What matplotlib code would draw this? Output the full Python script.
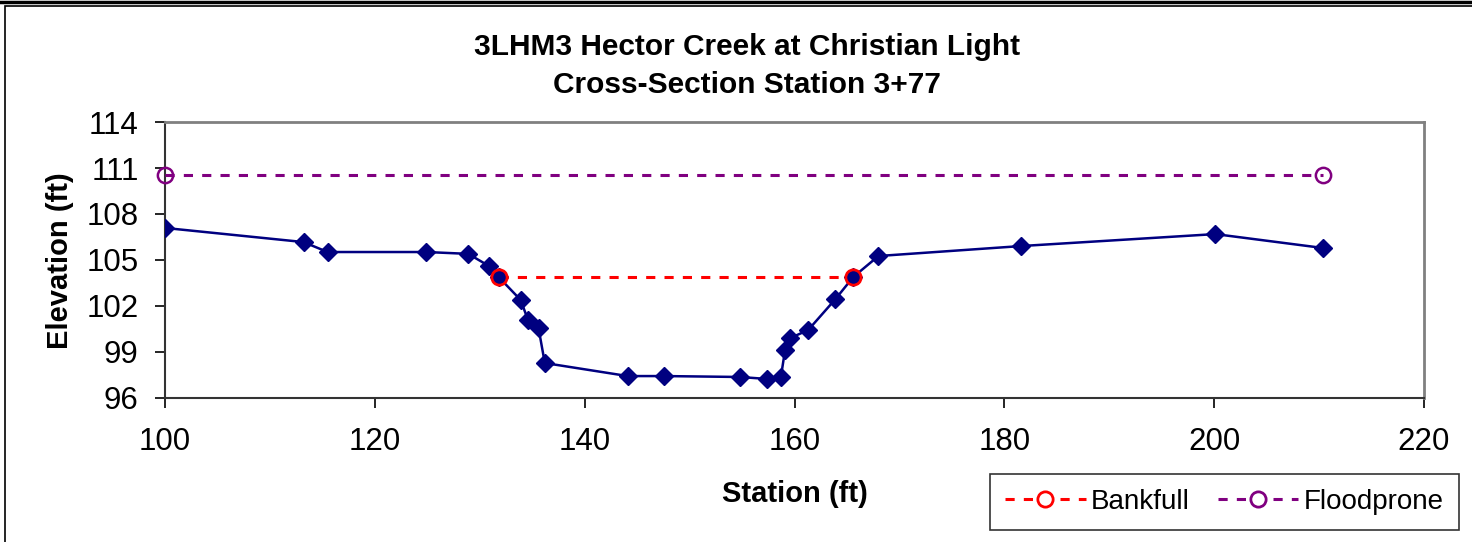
import matplotlib.pyplot as plt
from matplotlib.lines import Line2D
from matplotlib.patches import Rectangle

plt.rcParams['font.family'] = ['Liberation Sans', 'DejaVu Sans']

# cross-section survey points
station = [100.0, 113.2, 115.5, 124.9, 128.9, 130.9, 131.8, 133.9, 134.6, 135.6,
           136.2, 144.1, 147.6, 154.8, 157.4, 158.7, 159.1, 159.6, 161.3, 163.9,
           165.6, 168.0, 181.6, 200.1, 210.4]
elevation = [107.09, 106.17, 105.52, 105.52, 105.4, 104.6, 103.89, 102.39, 101.08, 100.56,
             98.28, 97.43, 97.43, 97.37, 97.24, 97.37, 99.13, 99.91, 100.43, 102.45,
             103.89, 105.26, 105.91, 106.69, 105.78]

bankfull_x = [131.8, 165.6]
bankfull_y = [103.89, 103.89]
flood_x = [100.0, 210.4]
flood_y = [110.54, 110.54]

fig = plt.figure(figsize=(14.72, 5.42), dpi=100)
ax = fig.add_axes([0.1121, 0.2657, 0.8553, 0.5092])

# chart frame (cropped at right / bottom)
fig.patches.append(Rectangle((5 / 1472, -0.05), 1.2, 1 - 6 / 542 + 0.05,
                             transform=fig.transFigure, fill=False,
                             edgecolor='black', linewidth=1.2))
fig.add_artist(Line2D([0, 1], [1 - 1.5 / 542] * 2, transform=fig.transFigure,
                      color='black', linewidth=2.5))

ax.plot(station, elevation, color='#000080', linewidth=1.8, marker='D',
        markersize=9.5, zorder=3)
ax.plot(flood_x, flood_y, color='#800080', linewidth=2.2, linestyle=(0, (3, 3)),
        marker='o', markersize=11, markerfacecolor='none',
        markeredgecolor='#800080', markeredgewidth=1.8, clip_on=False, zorder=4)
ax.plot(bankfull_x, bankfull_y, color='#ff0000', linewidth=2.2, linestyle=(0, (3, 3)),
        marker='o', markersize=11, markerfacecolor='#000080',
        markeredgecolor='#ff0000', markeredgewidth=2, zorder=4)

ax.set_xlim(100, 220)
ax.set_ylim(96, 114)
ax.set_xticks(range(100, 221, 20))
ax.set_yticks(range(96, 115, 3))
ax.tick_params(axis='both', labelsize=22.5, direction='out', length=7, width=1.2, colors='black')
ax.tick_params(axis='x', pad=14)
ax.tick_params(axis='y', pad=12)

for s in ['top', 'right']:
    ax.spines[s].set_color('#808080')
    ax.spines[s].set_linewidth(2)
for s in ['left', 'bottom']:
    ax.spines[s].set_color('#333333')
    ax.spines[s].set_linewidth(1.5)

fig.text(747 / 1472, 1 - 66 / 542, '3LHM3 Hector Creek at Christian Light\nCross-Section Station 3+77',
         ha='center', va='center', fontsize=21.5, fontweight='bold', linespacing=1.45)
fig.text(795 / 1472, 1 - 494 / 542, 'Station (ft)', ha='center', va='center',
         fontsize=21, fontweight='bold')
fig.text(60 / 1472, 1 - 261 / 542, 'Elevation (ft)', ha='center', va='center',
         rotation=90, fontsize=21, fontweight='bold')

handles = [
    Line2D([], [], color='#ff0000', linewidth=2.2, linestyle=(0, (3, 3)), marker='o',
           markersize=11, markerfacecolor='white', markeredgecolor='#ff0000', markeredgewidth=2),
    Line2D([], [], color='#800080', linewidth=2.2, linestyle=(0, (3, 3)), marker='o',
           markersize=11, markerfacecolor='white', markeredgecolor='#800080', markeredgewidth=2),
]
leg = fig.legend(handles, ['Bankfull', 'Floodprone'], loc='center',
                 bbox_to_anchor=(0.8318, 0.0738), ncol=2, fontsize=20,
                 frameon=True, fancybox=False, shadow=False, handlelength=2.9,
                 columnspacing=1.0, handletextpad=0.2, borderpad=0.55)
leg.get_frame().set_edgecolor('black')
leg.get_frame().set_linewidth(1.2)

fig.savefig('out.png', dpi=100)
